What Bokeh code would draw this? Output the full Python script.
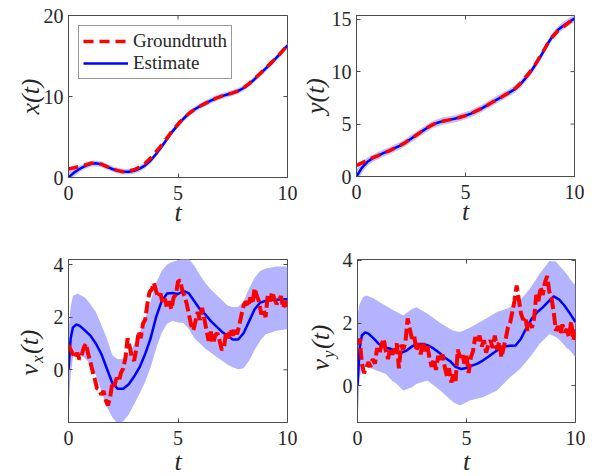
import math
from bokeh.plotting import figure
from bokeh.layouts import column, row
from bokeh.models import Range1d, FixedTicker, Legend, LegendItem, Label
from bokeh.embed import file_html
from bokeh.resources import INLINE

# ---------------- data ----------------
t_pos = [i * 0.25 for i in range(41)]
x_true = [1.05, 1.2, 1.35, 1.55, 1.75, 1.8, 1.65, 1.35, 1.05, 0.85, 0.72, 0.78, 0.95, 1.3, 1.75, 2.4,
          3.2, 4.0, 4.9, 5.8, 6.6, 7.3, 7.9, 8.4, 8.8, 9.15, 9.5, 9.8, 10.05, 10.25, 10.45, 10.7,
          11.1, 11.6, 12.2, 12.85, 13.5, 14.15, 14.8, 15.55, 16.3]
x_est = [0.0, 0.6, 1.05, 1.4, 1.65, 1.75, 1.62, 1.35, 1.05, 0.85, 0.72, 0.72, 0.82, 1.1, 1.5, 2.1,
         2.9, 3.8, 4.75, 5.7, 6.5, 7.25, 7.9, 8.4, 8.8, 9.15, 9.5, 9.8, 10.05, 10.25, 10.45, 10.7,
         11.05, 11.55, 12.15, 12.8, 13.45, 14.1, 14.8, 15.55, 16.3]
y_true = [1.05, 1.3, 1.55, 1.8, 2.0, 2.25, 2.45, 2.7, 2.95, 3.25, 3.6, 3.95, 4.3, 4.65, 4.95, 5.15,
          5.3, 5.4, 5.5, 5.65, 5.8, 6.0, 6.25, 6.5, 6.8, 7.1, 7.4, 7.7, 8.0, 8.35, 8.85, 9.45,
          10.1, 10.85, 11.7, 12.6, 13.35, 13.9, 14.3, 14.7, 15.0]
y_est = [0.0, 0.85, 1.4, 1.75, 2.0, 2.25, 2.45, 2.7, 2.95, 3.25, 3.6, 3.95, 4.3, 4.65, 4.95, 5.15,
         5.3, 5.4, 5.5, 5.65, 5.8, 6.0, 6.25, 6.5, 6.8, 7.1, 7.4, 7.7, 8.0, 8.3, 8.75, 9.35,
         10.0, 10.8, 11.65, 12.6, 13.4, 14.0, 14.4, 14.75, 15.05]
pos_band_hw = [0.7, 0.5, 0.4, 0.35, 0.35, 0.35, 0.35, 0.35, 0.35, 0.35, 0.35, 0.35, 0.35, 0.35,
               0.35, 0.35, 0.35, 0.35, 0.35, 0.35, 0.35, 0.35, 0.35, 0.35, 0.35, 0.35, 0.35, 0.35,
               0.35, 0.35, 0.35, 0.35, 0.35, 0.35, 0.35, 0.35, 0.35, 0.35, 0.35, 0.35, 0.35]

t_fine = [i * 0.1 for i in range(101)]
vx_true = [0.95, 0.75, 0.6, 0.45, 0.65, 0.4, 0.55, 0.85, 1.0, 0.6,
           0.3, -0.05, -0.35, -0.7, -0.75, -0.95, -0.8, -1.15, -1.35, -1.05,
           -0.5, -0.6, -0.3, -0.45, -0.1, 0.05, 0.45, 1.2, 0.85, 0.45,
           0.35, 0.8, 1.45, 1.2, 1.75, 1.9, 2.5, 2.95, 3.05, 3.3,
           3.0, 2.75, 2.9, 2.5, 2.7, 2.35, 2.6, 2.3, 2.75, 2.85,
           3.35, 3.4, 3.0, 2.8, 2.5, 2.1, 1.7, 1.5, 1.85, 2.2,
           1.9, 2.35, 1.95, 1.5, 1.1, 1.45, 1.0, 1.3, 1.4, 1.1,
           0.75, 0.85, 1.45, 1.2, 1.55, 1.3, 1.6, 1.35, 1.7, 2.1,
           2.45, 2.6, 2.4, 2.75, 2.5, 3.1, 2.8, 2.6, 2.1, 2.3,
           2.0, 2.85, 2.6, 2.95, 2.7, 2.5, 2.6, 2.8, 2.35, 2.6,
           2.4]
vy_true = [1.3, 1.5, 0.7, 0.4, 0.55, 0.75, 0.6, 0.85, 0.7, 1.2,
           1.0, 1.3, 1.5, 1.1, 0.85, 1.2, 1.0, 1.1, 1.35, 0.55,
           1.3, 1.15, 1.4, 2.15, 1.8, 1.5, 1.6, 1.1, 1.35, 1.0,
           1.4, 1.1, 1.3, 0.9, 0.6, 0.85, 0.5, 0.95, 0.75, 1.0,
           0.6, 0.3, 0.55, 0.1, 0.35, 0.15, 1.15, 0.9, 1.05, 0.7,
           0.95, 0.4, 0.9, 1.1, 1.55, 1.35, 1.6, 1.25, 1.45, 1.05,
           1.3, 1.45, 1.2, 1.6, 1.15, 1.4, 0.9, 1.2, 1.5, 1.85,
           2.0, 2.35, 2.7, 3.2, 2.75, 2.3, 2.1, 2.2, 1.75, 2.0,
           1.85, 2.15, 2.9, 2.7, 3.15, 2.9, 3.3, 3.5, 3.0, 2.8,
           2.35, 1.75, 1.9, 1.65, 1.95, 1.7, 1.8, 1.55, 2.05, 1.45,
           1.8]

t_vel = [0, 0.1, 0.2, 0.35, 0.5, 0.75, 1.0, 1.25, 1.5, 1.75, 2.0, 2.25, 2.5, 2.75, 3.0, 3.25, 3.5,
         3.75, 4.0, 4.25, 4.5, 4.75, 5.0, 5.25, 5.5, 5.75, 6.0, 6.25, 6.5, 6.75, 7.0, 7.25, 7.5,
         7.75, 8.0, 8.25, 8.5, 8.75, 9.0, 9.25, 9.5, 9.75, 10.0]
vx_est = [0, 1.2, 1.6, 1.72, 1.68, 1.5, 1.3, 1.0, 0.6, 0.05, -0.5, -0.72, -0.72, -0.55, -0.25, 0.1,
          0.6, 1.2, 2.0, 2.6, 2.9, 2.92, 2.88, 3.0, 2.9, 2.6, 2.3, 2.1, 1.85, 1.65, 1.45, 1.3, 1.15,
          1.15, 1.4, 1.85, 2.3, 2.55, 2.62, 2.65, 2.66, 2.68, 2.68]
vy_est = [0, 1.2, 1.6, 1.7, 1.66, 1.5, 1.32, 1.22, 1.18, 1.1, 1.05, 1.12, 1.25, 1.33, 1.33, 1.28,
          1.18, 1.05, 0.9, 0.78, 0.6, 0.53, 0.56, 0.64, 0.7, 0.8, 0.92, 1.05, 1.17, 1.25, 1.27,
          1.28, 1.5, 1.85, 2.15, 2.35, 2.5, 2.68, 2.85, 2.75, 2.55, 2.3, 2.03]

vx_band_t = [0, 0.1, 0.2, 0.4, 0.75, 1.0, 1.25, 1.5, 1.75, 2.0, 2.25, 2.5, 2.75, 3.0, 3.25, 3.5,
             3.75, 4.0, 4.25, 4.5, 4.75, 5.0, 5.25, 5.5, 5.75, 6.0, 6.25, 6.5, 6.75, 7.0, 7.25,
             7.5, 7.75, 8.0, 8.25, 8.5, 8.75, 9.0, 9.5, 10.0]
vx_lower = [-1.6, -0.2, 0.45, 0.6, 0.45, 0.2, -0.2, -0.8, -1.4, -1.8, -2.05, -1.95, -1.7, -1.3,
            -0.9, -0.45, 0.1, 0.8, 1.4, 1.75, 1.85, 1.8, 1.78, 1.55, 1.2, 1.0, 0.8, 0.65, 0.5,
            0.35, 0.2, 0.1, 0.02, 0.06, 0.35, 0.75, 1.1, 1.35, 1.48, 1.55]
vx_upper = [1.5, 2.4, 2.8, 2.9, 2.75, 2.5, 2.2, 1.7, 1.2, 0.55, 0.4, 0.42, 0.6, 0.95, 1.4, 1.95,
            2.6, 3.3, 3.75, 4.0, 4.1, 4.15, 4.25, 4.2, 3.95, 3.6, 3.3, 3.05, 2.85, 2.65, 2.45,
            2.38, 2.4, 2.6, 3.1, 3.5, 3.75, 3.85, 3.92, 3.92]

vy_band_t = [0, 0.05, 0.1, 0.25, 0.4, 0.7, 1.0, 1.3, 1.6, 1.8, 2.1, 2.5, 2.7, 3.2, 3.8, 4.1, 4.4,
             4.7, 5.15, 5.75, 6.4, 7.0, 7.45, 7.9, 8.35, 8.8, 9.1, 9.3, 9.6, 9.75, 10.0]
vy_upper = [2.2, 2.45, 2.6, 2.83, 2.88, 2.8, 2.67, 2.55, 2.42, 2.35, 2.24, 2.45, 2.5, 2.3, 2.0,
            1.87, 1.75, 1.71, 1.85, 2.08, 2.35, 2.5, 2.72, 3.09, 3.57, 3.98, 3.97, 3.8, 3.57,
            3.4, 3.2]
vy_lower = [-1.2, -0.5, 0.3, 0.58, 0.6, 0.53, 0.45, 0.37, 0.15, 0.05, -0.16, -0.05, 0.05, 0.16,
            -0.16, -0.35, -0.53, -0.64, -0.48, -0.37, -0.16, 0.27, 0.53, 0.9, 1.33, 1.65, 1.55,
            1.44, 1.2, 1.12, 0.9]

t_ticks = [0, 5, 10]
x_ticks_y = [0, 10, 20]
y_ticks_y = [0, 5, 10, 15]
v_ticks_y = [0, 2, 4]

# ---------------- style ----------------
FONT = "Liberation Serif"
AX_COLOR = "#4d4d4d"
TXT_COLOR = "#262626"
BAND = "#b3b3ff"
RED = "#ff0000"
BLUE = "#0000ff"


def hide_title(f):
    if f.title is not None:
        f.title.visible = False


def style_axis(ax, ticks, standoff):
    ax.ticker = FixedTicker(ticks=ticks)
    ax.minor_tick_line_color = None
    ax.major_tick_in = 4
    ax.major_tick_out = 0
    ax.axis_line_color = AX_COLOR
    ax.major_tick_line_color = AX_COLOR
    ax.major_label_text_font = FONT
    ax.major_label_text_color = TXT_COLOR
    ax.major_label_text_font_size = "20px"
    ax.major_label_standoff = standoff
    ax.axis_label_text_font = FONT
    ax.axis_label_text_font_style = "italic"
    ax.axis_label_text_font_size = "26px"
    ax.axis_label_text_color = TXT_COLOR


def make_fig(yr, yticks, bl, bt, fw, fh, bb, ylabel=None, ylabel_standoff=0, xlabel_standoff=0):
    p = figure(output_backend="svg", toolbar_location=None,
               frame_width=fw, frame_height=fh,
               x_range=Range1d(0, 10), y_range=Range1d(*yr),
               min_border_left=bl, min_border_right=10,
               min_border_top=bt, min_border_bottom=bb)
    hide_title(p)
    p.xgrid.visible = False
    p.ygrid.visible = False
    p.outline_line_color = AX_COLOR
    p.outline_line_width = 1
    p.background_fill_color = "white"
    p.border_fill_color = "white"
    style_axis(p.xaxis[0], t_ticks, 8)
    style_axis(p.yaxis[0], yticks, 5)
    p.xaxis[0].axis_label = "t"
    p.xaxis[0].axis_label_standoff = xlabel_standoff
    if ylabel:
        p.yaxis[0].axis_label = ylabel
        p.yaxis[0].axis_label_standoff = ylabel_standoff
    # mirrored inward ticks on the top and right edges (half of each dash is clipped)
    p.scatter(x=t_ticks, y=[yr[1]] * len(t_ticks), marker="dash", angle=math.pi / 2,
              size=8, line_color=AX_COLOR, line_width=1)
    p.scatter(x=[10] * len(yticks), y=yticks, marker="dash", size=8,
              line_color=AX_COLOR, line_width=1)
    return p


def label_fig(w, h):
    f = figure(output_backend="svg", toolbar_location=None,
               frame_width=w, frame_height=h,
               x_range=Range1d(0, w), y_range=Range1d(0, h),
               x_axis_type=None, y_axis_type=None,
               min_border_left=0, min_border_right=0, min_border_top=0, min_border_bottom=0)
    hide_title(f)
    f.xgrid.visible = False
    f.ygrid.visible = False
    f.outline_line_color = None
    f.background_fill_color = "white"
    f.border_fill_color = "white"
    return f


def add_v_label(f, sub, xb, y0):
    # each piece is centred on its anchor; text reads bottom-to-top
    common = dict(x_units="screen", y_units="screen", angle=math.pi / 2,
                  text_font=FONT, text_font_style="italic", text_color=TXT_COLOR,
                  text_align="center", text_baseline="middle")
    f.add_layout(Label(x=xb - 7.8, y=y0 + 5.75, text="v", text_font_size="26px", **common))
    f.add_layout(Label(x=xb, y=y0 + 16.25, text=sub, text_font_size="17px", **common))
    f.add_layout(Label(x=xb - 7.8, y=y0 + 33.75, text="(t)", text_font_size="26px", **common))


# ---- x(t) ----
p1 = make_fig((0, 20), x_ticks_y, 68, 14, 219, 162, 55, ylabel="x(t)",
              ylabel_standoff=-4, xlabel_standoff=-5)
p1.varea(x=t_pos, y1=[a - b for a, b in zip(x_est, pos_band_hw)],
         y2=[a + b for a, b in zip(x_est, pos_band_hw)], fill_color=BAND, fill_alpha=0.8)
r_est = p1.line(t_pos, x_est, line_color=BLUE, line_width=2.5)
r_true = p1.line(t_pos, x_true, line_color=RED, line_width=3.5, line_dash="10 6")
leg = Legend(items=[LegendItem(label="Groundtruth", renderers=[r_true]),
                    LegendItem(label="Estimate", renderers=[r_est])],
             location="top_left", margin=10, padding=4, spacing=0,
             glyph_width=45, glyph_height=20, label_height=20, label_standoff=5,
             label_text_font=FONT, label_text_font_size="19px", label_text_color=TXT_COLOR,
             border_line_color="#333333", border_line_width=1, background_fill_alpha=1)
p1.add_layout(leg)

# ---- y(t) ----
p2 = make_fig((0, 15.35), y_ticks_y, 59, 15, 218, 161, 55, ylabel="y(t)",
              ylabel_standoff=-1, xlabel_standoff=-5)
p2.varea(x=t_pos, y1=[a - b for a, b in zip(y_est, pos_band_hw)],
         y2=[a + b for a, b in zip(y_est, pos_band_hw)], fill_color=BAND, fill_alpha=0.8)
p2.line(t_pos, y_est, line_color=BLUE, line_width=2.5)
p2.line(t_pos, y_true, line_color=RED, line_width=3.5, line_dash="10 6")

# ---- v_x(t) ----
lab3 = label_fig(50, 241)
add_v_label(lab3, "x", 37, 125)
p3 = make_fig((-2.0, 4.19), v_ticks_y, 18, 28, 219, 163, 50, xlabel_standoff=-1)
p3.varea(x=vx_band_t, y1=vx_lower, y2=vx_upper, fill_color=BAND)
p3.line(t_vel, vx_est, line_color=BLUE, line_width=2.5)
p3.line(t_fine, vx_true, line_color=RED, line_width=4, line_dash="12 4")

# ---- v_y(t) ----
lab4 = label_fig(42, 241)
add_v_label(lab4, "y", 31, 130)
p4 = make_fig((-1.18, 4.03), v_ticks_y, 17, 28, 218, 163, 50, xlabel_standoff=-1)
p4.varea(x=vy_band_t, y1=vy_lower, y2=vy_upper, fill_color=BAND)
p4.line(t_vel, vy_est, line_color=BLUE, line_width=2.5)
p4.line(t_fine, vy_true, line_color=RED, line_width=4, line_dash="12 4")

layout = column(row(p1, p2), row(lab3, p3, lab4, p4))
open("out.html", "w").write(file_html(layout, INLINE))
